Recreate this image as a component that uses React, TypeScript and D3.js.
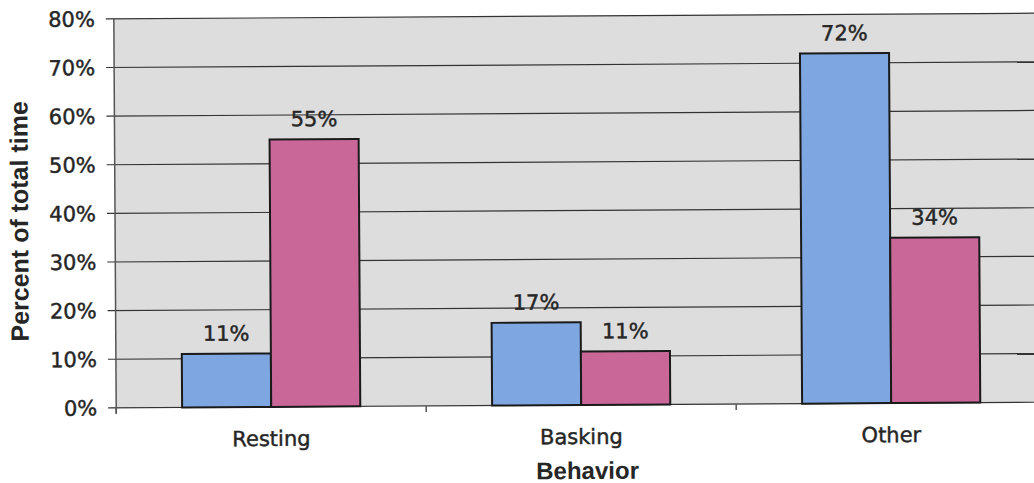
import React from "react";
import * as d3 from "d3";

const categories = ["Resting", "Basking", "Other"];
const seriesNames = ["Series A", "Series B"];
const seriesA = [11, 17, 72];
const seriesB = [55, 11, 34];
const yTicks = [0, 10, 20, 30, 40, 50, 60, 70, 80];

const W = 1034;
const H = 483;
const M = { left: 115, right: 1045, top: 16, bottom: 405 };

const colors = ["#7ea6e0", "#c96898"];
const textFont = "'DejaVu Sans', Verdana, sans-serif";
const titleFont = "'Liberation Sans', Arial, sans-serif";
const ink = "#262626";

export default function App() {
  const x = d3.scaleBand<string>().domain(categories).range([M.left, M.right]).paddingInner(0).paddingOuter(0);
  const xs = d3.scaleBand<string>().domain(seriesNames).range([0, x.bandwidth()]).paddingInner(0).paddingOuter(0.74);
  const y = d3.scaleLinear().domain([0, 80]).range([M.bottom, M.top]);
  const series = [seriesA, seriesB];

  const boundaries = [...categories.map((c) => x(c) as number), M.right];
  const textStyle = { fontFamily: textFont, fontSize: 21, fill: ink, stroke: ink, strokeWidth: 0.45 };

  return (
    <svg width={W} height={H} style={{ position: "absolute", left: 0, top: 0, background: "#ffffff" }}>
      <g transform={`rotate(-0.35, 580, 210)`}>
        {/* plot background */}
        <rect x={M.left} y={M.top} width={M.right - M.left} height={M.bottom - M.top} fill="#dddddd" />
        {/* gridlines */}
        {yTicks.map((t) => (
          <line key={`g${t}`} x1={M.left - 8} x2={M.right} y1={y(t)} y2={y(t)} stroke="#333" strokeWidth={1.2} />
        ))}
        {/* y axis line */}
        <line x1={M.left} x2={M.left} y1={M.top} y2={M.bottom + 6} stroke="#555" strokeWidth={1.5} />
        {/* y tick labels */}
        {yTicks.map((t) => (
          <text key={`t${t}`} x={96} y={y(t)} dy="0.36em" textAnchor="end" {...textStyle}>
            {`${t}%`}
          </text>
        ))}
        {/* category tick marks */}
        {boundaries.map((b, i) => (
          <line key={`c${i}`} x1={b} x2={b} y1={M.bottom} y2={M.bottom + 6} stroke="#555" strokeWidth={1.5} />
        ))}
        {/* bars and value labels */}
        {categories.map((c, ci) =>
          series.map((s, si) => {
            const bx = (x(c) as number) + (xs(seriesNames[si]) as number);
            const by = y(s[ci]);
            return (
              <g key={`b${ci}-${si}`}>
                <rect x={bx} y={by} width={xs.bandwidth()} height={y(0) - by} fill={colors[si]} stroke="#1a1a1a" strokeWidth={2} />
                <text x={bx + xs.bandwidth() / 2} y={by - 13} textAnchor="middle" {...textStyle}>
                  {`${s[ci]}%`}
                </text>
              </g>
            );
          })
        )}
        {/* category labels */}
        {categories.map((c) => (
          <text key={`l${c}`} x={(x(c) as number) + x.bandwidth() / 2} y={444} textAnchor="middle" {...textStyle}>
            {c}
          </text>
        ))}
        {/* axis titles */}
        <text x={586} y={479} textAnchor="middle" fontFamily={titleFont} fontWeight="bold" fontSize={24} fill={ink}>
          Behavior
        </text>
        <text transform="translate(28, 218) rotate(-90)" textAnchor="middle" fontFamily={titleFont} fontWeight="bold" fontSize={25} fill={ink}>
          Percent of total time
        </text>
      </g>
    </svg>
  );
}
